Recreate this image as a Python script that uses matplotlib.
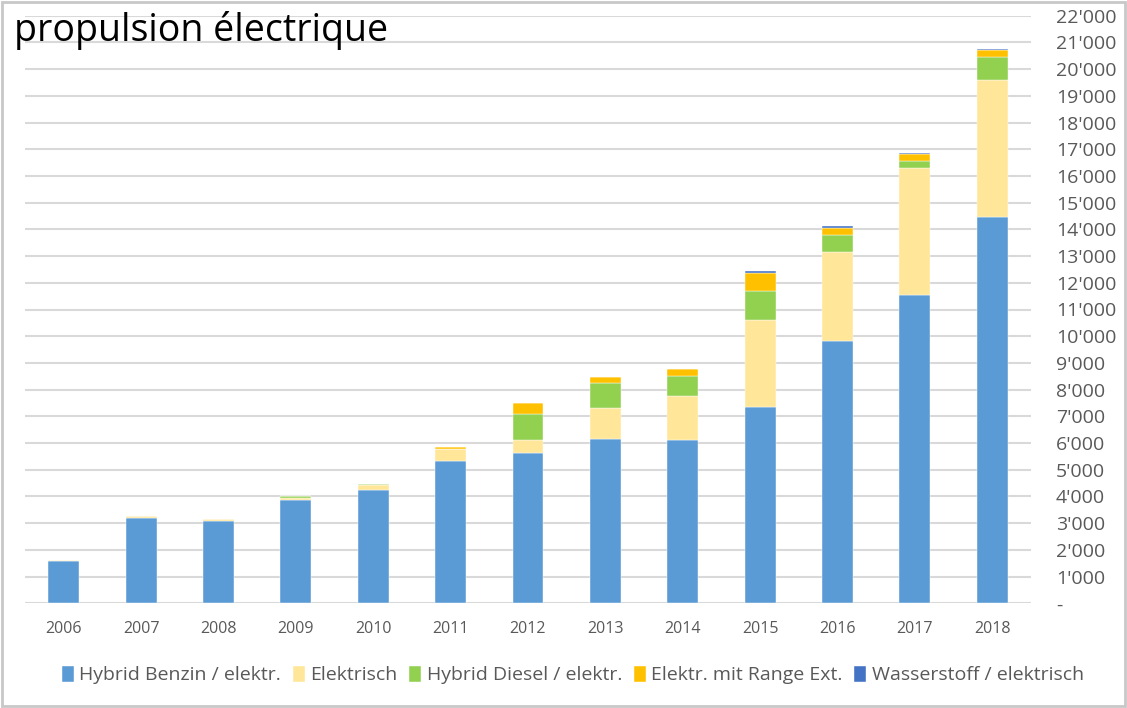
import numpy as np
import matplotlib
matplotlib.use("Agg")
import matplotlib.pyplot as plt
from matplotlib.ticker import FuncFormatter, MultipleLocator
from matplotlib.patches import Rectangle

years = ["2006", "2007", "2008", "2009", "2010", "2011", "2012",
         "2013", "2014", "2015", "2016", "2017", "2018"]

# values per category (stacked bottom -> top)
hybridBenzin = [1570, 3205, 3095, 3880, 4230, 5330, 5630, 6155, 6115, 7365, 9835, 11535, 14455]
elektrisch = [40, 60, 50, 75, 200, 450, 485, 1170, 1650, 3245, 3320, 4755, 5130]
hybridDiesel = [0, 0, 0, 50, 50, 15, 985, 935, 750, 1100, 635, 275, 860]
rangeExt = [0, 0, 0, 0, 0, 60, 390, 215, 275, 675, 275, 250, 285]
wasserstoff = [0, 0, 0, 0, 0, 0, 0, 0, 0, 50, 50, 40, 40]

seriesNames = ["Hybrid Benzin / elektr.", "Elektrisch", "Hybrid Diesel / elektr.",
               "Elektr. mit Range Ext.", "Wasserstoff / elektrisch"]
seriesColors = ["#5B9BD5", "#FFE699", "#92D050", "#FFC000", "#4472C4"]

W, H = 1127, 708
fig = plt.figure(figsize=(W / 100, H / 100), dpi=100)
plt.rcParams['font.family'] = ['Open Sans', 'DejaVu Sans']

ax = fig.add_axes([25 / W, 1 - 603.3 / H, (1031 - 25) / W, (603.3 - 15.7) / H])

x = np.arange(len(years))
bottom = np.zeros(len(years))
allSeries = [hybridBenzin, elektrisch, hybridDiesel, rangeExt, wasserstoff]
for vals, name, col in zip(allSeries, seriesNames, seriesColors):
    vals = np.array(vals, dtype=float)
    ax.bar(x, vals, width=0.4, bottom=bottom, color=col, label=name,
           edgecolor="white", linewidth=0.3, zorder=3)
    bottom += vals

ax.set_xlim(-0.5, len(years) - 0.5)
ax.set_ylim(0, 22000)
ax.yaxis.set_major_locator(MultipleLocator(1000))

def fmtThousands(v, pos):
    if v == 0:
        return "-"
    return f"{int(v):,}".replace(",", "'")

ax.yaxis.set_major_formatter(FuncFormatter(fmtThousands))
ax.yaxis.tick_right()
ax.tick_params(axis="y", length=0, pad=18, labelsize=14, labelcolor="#595959")
ax.set_xticks(x)
ax.set_xticklabels(years)
ax.tick_params(axis="x", length=0, pad=13, labelsize=11.5, labelcolor="#595959")

ax.grid(axis="y", color="#D9D9D9", linewidth=1.5, zorder=0)
for s in ax.spines.values():
    s.set_visible(False)

fig.text(14 / W, 1 - 31 / H, "propulsion électrique", fontsize=27,
         va="center", ha="left", color="black")

handles, labels = ax.get_legend_handles_labels()
fig.legend(handles, labels, loc="center", ncol=5, frameon=False,
           bbox_to_anchor=(573 / W, 1 - 675 / H), fontsize=14,
           handlelength=0.6, handleheight=0.9, handletextpad=0.3,
           columnspacing=0.6, labelcolor="#595959")

# outer frame
fig.patches.append(Rectangle((2 / W, 2 / H), (W - 4) / W, (H - 4) / H,
                             transform=fig.transFigure, fill=False,
                             edgecolor="#C8C8C8", linewidth=2))

fig.savefig("out.png", dpi=100)
plt.close()
